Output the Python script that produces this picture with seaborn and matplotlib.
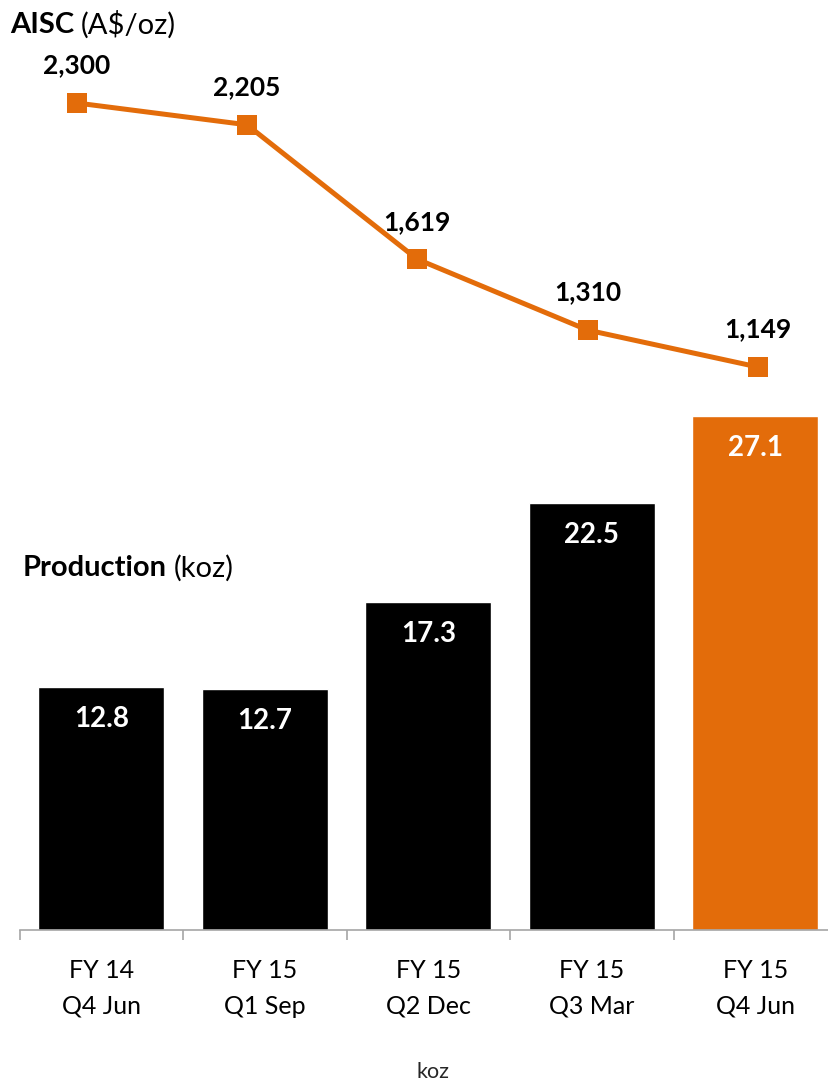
import numpy as np
import pandas as pd
import matplotlib
matplotlib.use("Agg")
import matplotlib.pyplot as plt
import seaborn as sns

categories = ["FY 14\nQ4 Jun", "FY 15\nQ1 Sep", "FY 15\nQ2 Dec", "FY 15\nQ3 Mar", "FY 15\nQ4 Jun"]
production = [12.8, 12.7, 17.3, 22.5, 27.1]
aisc = [2300, 2205, 1619, 1310, 1149]
aisc_labels = ["2,300", "2,205", "1,619", "1,310", "1,149"]
bar_colors = ["#000000", "#000000", "#000000", "#000000", "#E36C0A"]
ORANGE = "#E36C0A"

sns.set_theme(style="white")
plt.rcParams["font.family"] = ["Lato", "DejaVu Sans"]

W, H = 829, 1081
fig = plt.figure(figsize=(W / 100, H / 100), dpi=100)
base_px = 930
# bar axes (primary)
ax = fig.add_axes([19.6 / W, (H - base_px) / H, 817.5 / W, base_px / H])

df = pd.DataFrame({"cat": categories, "prod": production})
sns.barplot(data=df, x="cat", y="prod", hue="cat", palette=bar_colors,
            legend=False, width=0.77, saturation=1, ax=ax)
ax.set_xlim(-0.5, len(categories) - 0.5)
ax.set_ylim(0, 49.0)

for i, v in enumerate(production):
    ax.annotate(f"{v:.1f}", xy=(i, v), xytext=(0, -32 / 100 * 72), textcoords="offset points",
                ha="center", va="center", color="white", fontsize=20, fontweight="bold")

for s in ["top", "right", "left"]:
    ax.spines[s].set_visible(False)
ax.spines["bottom"].set_color("#A6A6A6")
ax.spines["bottom"].set_linewidth(1.2)
ax.set_yticks([])
ax.set_ylabel("")
ax.set_xticks(range(len(categories)))
ax.set_xticklabels(categories, fontsize=18, color="#000000", linespacing=1.65)
ax.set_xticks(np.arange(-0.5, len(categories), 1), minor=True)
ax.tick_params(axis="x", which="major", length=0, pad=21)
ax.tick_params(axis="x", which="minor", length=7, width=1.2, color="#A6A6A6", bottom=True)
ax.set_xlabel("koz", fontsize=15.5)
ax.xaxis.set_label_coords((433 - 19.6) / 817.5, -(1072 - base_px) / base_px)
ax.xaxis.label.set_va("center")

# line axes (secondary, own x positions)
ax2 = fig.add_axes([-8.5 / W, (H - base_px) / H, 851.5 / W, base_px / H])
ax2.patch.set_alpha(0)
sns.lineplot(x=np.arange(len(categories)), y=aisc, ax=ax2, color=ORANGE, linewidth=3.6,
             marker="s", markersize=14.4, markeredgewidth=0, markerfacecolor=ORANGE)
ax2.set_ylim(-1305.5, 2749)
ax2.set_xlim(-0.5, len(categories) - 0.5)
for s in ax2.spines.values():
    s.set_visible(False)
ax2.set_xticks([])
ax2.set_yticks([])
ax2.set_ylabel("")
ax2.set_xlabel("")
for i, (v, lab) in enumerate(zip(aisc, aisc_labels)):
    ax2.annotate(lab, xy=(i, v), xytext=(0, 37.5 / 100 * 72), textcoords="offset points",
                 ha="center", va="center", color="black", fontsize=19, fontweight="bold")

fig.canvas.draw()
renderer = fig.canvas.get_renderer()

def two_part(x_px, y_px, bold, normal, size):
    t1 = fig.text(x_px / W, 1 - y_px / H, bold, fontsize=size, fontweight="bold",
                  ha="left", va="center", color="black")
    bb = t1.get_window_extent(renderer=renderer)
    fig.text((bb.x1 + 7) / W, 1 - y_px / H, normal, fontsize=size,
             ha="left", va="center", color="black")

two_part(10, 25, "AISC", "(A$/oz)", 21)
two_part(23, 568, "Production", "(koz)", 21)

fig.savefig("out.png", dpi=100)
